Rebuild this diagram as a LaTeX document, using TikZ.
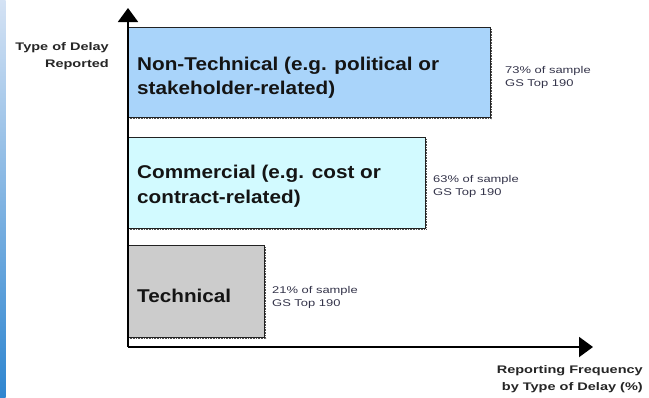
\documentclass[tikz,border=0pt]{standalone}
\usepackage{fontspec}
\setmainfont{Liberation Sans}
\newfontfamily\barfont[FakeStretch=1.12]{Liberation Sans}
\newfontfamily\widefont[FakeStretch=1.32]{Liberation Sans}
\usetikzlibrary{arrows.meta}
\definecolor{ntfill}{HTML}{A9D4FA}
\definecolor{cmfill}{HTML}{D2FAFF}
\definecolor{tcfill}{HTML}{CCCCCC}
\definecolor{edgec}{HTML}{222222}
\definecolor{notec}{HTML}{34344A}
\definecolor{stripTop}{HTML}{D4E2F4}
\definecolor{stripBot}{HTML}{2F86D0}
\tikzset{
  bar/.style={draw=edgec, line width=1pt},
  shadowline/.style={draw=edgec!80, line width=1.2pt, dash pattern=on 0.8pt off 0.8pt},
  barlabel/.style={anchor=base west, inner sep=0pt, text=black!92, font=\barfont\fontsize{18.5}{22}\selectfont\bfseries},
  note/.style={anchor=base west, inner sep=0pt, text=notec, font=\widefont\fontsize{9.8}{12}\selectfont},
  axislabel/.style={anchor=base east, inner sep=0pt, text=black!85, font=\widefont\fontsize{11}{13}\selectfont\bfseries},
  axis/.style={line width=2pt, draw=black, -{Triangle[width=20pt,length=14pt]}}
}
\begin{document}
\begin{tikzpicture}[x=1pt,y=-1pt]
\useasboundingbox (0,0) rectangle (649,397);
\fill[white] (0,0) rectangle (649,397);
% left strip
\shade[top color=stripTop, bottom color=stripBot] (0,0) rectangle (5.5,397);

% bars
\fill[ntfill] (128,27) rectangle (490,117);
\draw[bar] (128,27) -- (490,27) -- (490,117) -- (128,117);
\draw[shadowline] (491.8,29) -- (491.8,118.8) -- (128,118.8);

\fill[cmfill] (128,137) rectangle (425,228);
\draw[bar] (128,137) -- (425,137) -- (425,228) -- (128,228);
\draw[shadowline] (426.8,139) -- (426.8,229.8) -- (128,229.8);

\fill[tcfill] (128,245) rectangle (264,337);
\draw[bar] (128,245) -- (264,245) -- (264,337) -- (128,337);
\draw[shadowline] (265.8,247) -- (265.8,338.8) -- (128,338.8);

% axes
\coordinate (O) at (128,347);
\coordinate (ytip) at (128,8);
\coordinate (xtip) at (593,347);
\draw[axis] (O) -- (ytip);
\draw[axis] (O) -- (xtip);

% bar labels
\node[barlabel] (nt1) at (137,70) {Non-Technical (e.g. political or};
\node[barlabel] (nt2) at (137,94) {stakeholder-related)};
\node[barlabel] (cm1) at (137,178) {Commercial (e.g. cost or};
\node[barlabel] (cm2) at (137,203) {contract-related)};
\node[barlabel] (tc1) at (137,302) {Technical};

% notes
\node[note] (n73a) at (505,73) {73\% of sample};
\node[note] (n73b) at (505,86) {GS Top 190};
\node[note] (n63a) at (433,182) {63\% of sample};
\node[note] (n63b) at (433,195) {GS Top 190};
\node[note] (n21a) at (272,293) {21\% of sample};
\node[note] (n21b) at (272,306) {GS Top 190};

% axis labels
\node[axislabel] (yl1) at (109,50) {Type of Delay};
\node[axislabel] (yl2) at (109,67) {Reported};
\node[axislabel] (xl1) at (643,373) {Reporting Frequency};
\node[axislabel] (xl2) at (643,390) {by Type of Delay (\%)};
\end{tikzpicture}
\end{document}
